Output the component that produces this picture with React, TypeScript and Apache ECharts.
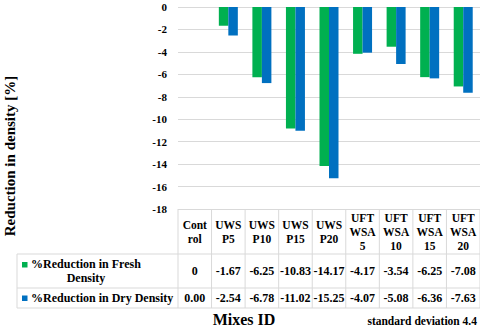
import React, { useEffect, useRef } from "react";
import * as echarts from "echarts";

const categories = [
  "Cont\nrol",
  "UWS\nP5",
  "UWS\nP10",
  "UWS\nP15",
  "UWS\nP20",
  "UFT\nWSA\n5",
  "UFT\nWSA\n10",
  "UFT\nWSA\n15",
  "UFT\nWSA\n20",
];
const freshValues = [0, -1.67, -6.25, -10.83, -14.17, -4.17, -3.54, -6.25, -7.08];
const dryValues = [0, -2.54, -6.78, -11.02, -15.25, -4.07, -5.08, -6.36, -7.63];
const seriesNames = ["%Reduction in Fresh Density", "%Reduction in Dry Density"];
const yMin = -18;
const yMax = 0;
const yInterval = 2;

const GREEN = "#00b050";
const BLUE = "#0070c0";
const GRID = "#d9d9d9";
const FONT = "Liberation Serif";

export default function App() {
  const ref = useRef<HTMLDivElement>(null);
  useEffect(() => {
    document.body.style.margin = "0";
    const chart = echarts.init(ref.current!, null, { renderer: "svg" });
    const gridLeft = 178;
    const gridTop = 7;
    const gridBottom = 119;
    chart.setOption({
      animation: false,
      textStyle: { fontFamily: FONT },
      grid: { left: gridLeft, right: 0, top: gridTop, bottom: gridBottom, containLabel: false },
      xAxis: {
        type: "category",
        data: categories,
        axisLine: { show: false },
        axisTick: { show: false },
        axisLabel: { show: false },
      },
      yAxis: {
        type: "value",
        min: yMin,
        max: yMax,
        interval: yInterval,
        axisLine: { show: false },
        axisTick: { show: false },
        axisLabel: {
          fontFamily: FONT,
          fontWeight: "bold",
          fontSize: 11,
          color: "#000",
          margin: 11,
        },
        splitLine: { lineStyle: { color: GRID, width: 1 } },
      },
      series: [
        {
          name: seriesNames[0],
          type: "bar",
          data: freshValues,
          barWidth: 9.5,
          barGap: "0%",
          itemStyle: { color: GREEN },
        },
        {
          name: seriesNames[1],
          type: "bar",
          data: dryValues,
          barWidth: 9.5,
          barGap: "0%",
          itemStyle: { color: BLUE },
        },
      ],
    });

    const xAt = (i: number) => chart.convertToPixel({ xAxisIndex: 0 }, i) as number;
    const yTop = chart.convertToPixel({ yAxisIndex: 0 }, yMin) as number;
    const c0 = xAt(0);
    const c1 = xAt(1);
    const step = c1 - c0;
    const left = c0 - step / 2;
    const right = left + step * categories.length;
    const legendLeft = 17;
    const headerBottom = 254;
    const row1Bottom = 288;
    const row2Bottom = 308;
    const lineStyle = { stroke: GRID, lineWidth: 1 };
    const textBase = { fontFamily: FONT, fontWeight: "bold", fontSize: 12, fill: "#000" };
    const els: any[] = [];
    els.push({ type: "line", shape: { x1: legendLeft, y1: headerBottom, x2: right, y2: headerBottom }, style: lineStyle });
    els.push({ type: "line", shape: { x1: legendLeft, y1: row1Bottom, x2: right, y2: row1Bottom }, style: lineStyle });
    els.push({ type: "line", shape: { x1: legendLeft, y1: row2Bottom, x2: right, y2: row2Bottom }, style: lineStyle });
    els.push({ type: "line", shape: { x1: legendLeft, y1: headerBottom, x2: legendLeft, y2: row2Bottom }, style: lineStyle });
    for (let i = 0; i <= categories.length; i++) {
      const x = left + step * i;
      els.push({ type: "line", shape: { x1: x, y1: yTop, x2: x, y2: row2Bottom }, style: lineStyle });
    }
    const r1 = (headerBottom + row1Bottom) / 2;
    const r2 = (row1Bottom + row2Bottom) / 2;
    const hMid = (yTop + headerBottom) / 2;
    categories.forEach((c, i) => {
      const x = xAt(i);
      els.push({
        type: "text",
        style: { ...textBase, fontSize: 11.5, text: c, x, y: hMid, align: "center", verticalAlign: "middle", lineHeight: 14 },
      });
      els.push({
        type: "text",
        style: { ...textBase, text: freshValues[i] === 0 ? "0" : freshValues[i].toFixed(2), x, y: r1, align: "center", verticalAlign: "middle" },
      });
      els.push({
        type: "text",
        style: { ...textBase, text: dryValues[i].toFixed(2), x, y: r2, align: "center", verticalAlign: "middle" },
      });
    });
    els.push({ type: "rect", shape: { x: 22, y: r1 - 9, width: 5.5, height: 5.5 }, style: { fill: GREEN } });
    els.push({
      type: "text",
      style: { ...textBase, text: "%Reduction in Fresh\nDensity", x: 86, y: r1, align: "center", verticalAlign: "middle", lineHeight: 14 },
    });
    els.push({ type: "rect", shape: { x: 22, y: r2 - 2.5, width: 5.5, height: 5.5 }, style: { fill: BLUE } });
    els.push({
      type: "text",
      style: { ...textBase, text: seriesNames[1], x: 31, y: r2, align: "left", verticalAlign: "middle" },
    });
    els.push({
      type: "text",
      x: 10,
      y: 156,
      rotation: Math.PI / 2,
      style: { fontFamily: FONT, fontWeight: "bold", fontSize: 15, fill: "#000", text: "Reduction in density [%]", x: 0, y: 0, align: "center", verticalAlign: "middle" },
    });
    els.push({
      type: "text",
      style: { fontFamily: FONT, fontWeight: "bold", fontSize: 16, fill: "#000", text: "Mixes ID", x: 244, y: 319, align: "center", verticalAlign: "middle" },
    });
    els.push({
      type: "text",
      style: { fontFamily: FONT, fontWeight: "bold", fontSize: 11.5, fill: "#000", text: "standard deviation 4.4", x: 477, y: 321, align: "right", verticalAlign: "middle" },
    });
    chart.setOption({ graphic: { elements: els } });
    return () => chart.dispose();
  }, []);
  return <div ref={ref} style={{ width: 480, height: 328 }} />;
}
